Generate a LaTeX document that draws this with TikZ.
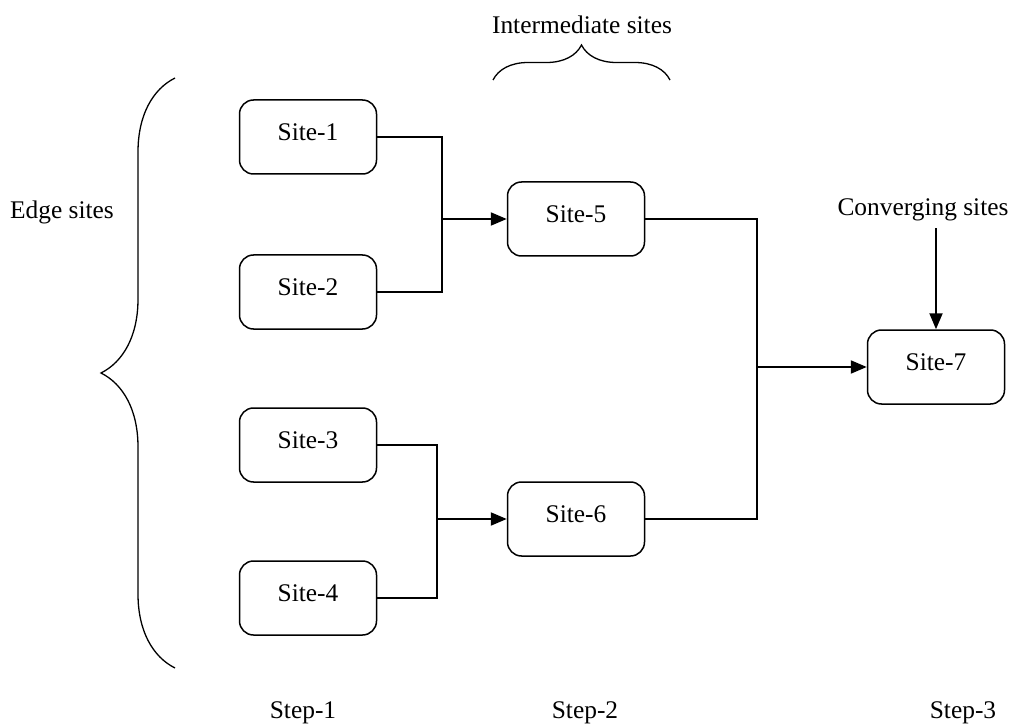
\documentclass[tikz,border=0pt]{standalone}
\usepackage{fontspec}
\setmainfont{Liberation Serif}
\usetikzlibrary{positioning}
\usetikzlibrary{calc}
\usetikzlibrary{decorations.pathreplacing}
\usetikzlibrary{arrows.meta}

\begin{document}
\begin{tikzpicture}[x=0.5pt,y=-0.5pt,font=\fontsize{12.7}{15}\selectfont,
site/.style={draw,rounded corners=7pt,line width=0.75pt,minimum width=68.5pt,minimum height=37pt,inner sep=0pt,text depth=5pt},
link/.style={line width=1pt},
arr/.style={link,-{Triangle[length=8pt,width=6.5pt]}},
curly/.style={line width=0.65pt,decorate,decoration={brace,amplitude=#1}}]
\useasboundingbox (0,0) rectangle (1017,727);
\node[site] (s1) at (308,137) {Site-1};
\node[site] (s2) at (308,292) {Site-2};
\node[site] (s3) at (308,445) {Site-3};
\node[site] (s4) at (308,598) {Site-4};
\node[site] (s5) at (576,219) {Site-5};
\node[site] (s6) at (576,519) {Site-6};
\node[site] (s7) at (936,367) {Site-7};
% junctions
\coordinate (j1) at (442,219);
\coordinate (j2) at (437,519);
\coordinate (j3) at (757,367);
\draw[link] (s1.east) -| (j1) |- (s2.east);
\draw[arr] (j1) -- (s5.west);
\draw[link] (s3.east) -| (j2) |- (s4.east);
\draw[arr] (j2) -- (s6.west);
\draw[link] (s5.east) -| (j3) |- (s6.east);
\draw[arr] (j3) -- (s7.west);
% labels
\node (conv) at (923,210) {Converging sites};
\draw[arr] (s7.north |- conv.south) -- (s7.north);
\node (edge) at (62,212) {Edge sites};
\node (inter) at (582,25) {Intermediate sites};
\draw[curly=37pt] (175,668) -- (175,78);
\draw[curly=17.5pt] (493,80) -- (670,80);
\node (st1) at (303,713) {Step-1};
\node (st2) at (585,713) {Step-2};
\node (st3) at (963,713) {Step-3};
\end{tikzpicture}
\end{document}
